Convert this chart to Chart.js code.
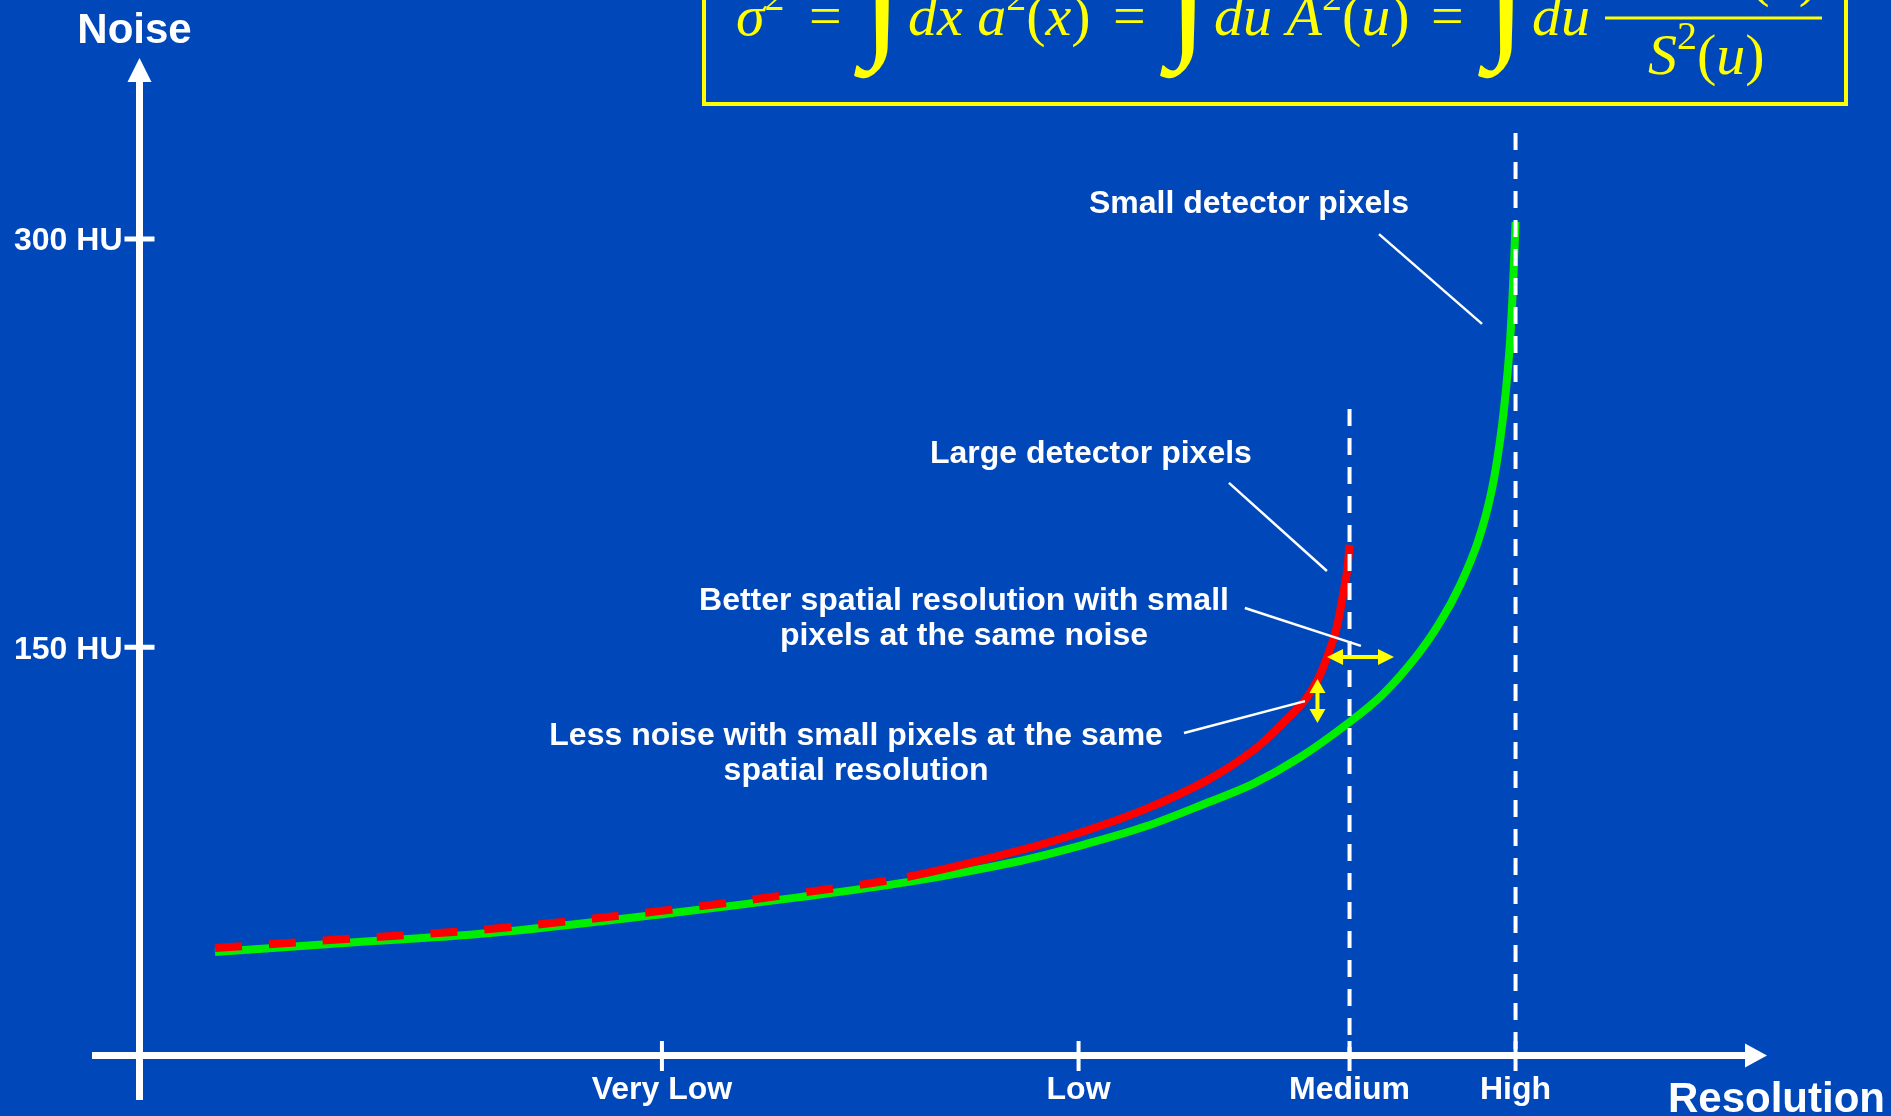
<!DOCTYPE html>
<html>
<head>
<meta charset="utf-8">
<script src="https://cdn.jsdelivr.net/npm/chart.js@4.4.1/dist/chart.umd.min.js"></script>
<style>
html, body { margin: 0; padding: 0; background: #0048ba; overflow: hidden; }
canvas { display: block; }
</style>
</head>
<body>
<canvas id="noiseChart" width="1891" height="1116"></canvas>
<script>
// resolution axis in arbitrary units (0 = noise axis), noise in HU
var resolutionTicks = [32.1, 57.7, 74.35, 84.55];
var resolutionLabels = ['Very Low', 'Low', 'Medium', 'High'];
var noiseTicks = [150, 300];
var noiseLabels = ['150 HU', '300 HU'];

// large detector pixels (red)
var largeX = [4.64, 11.71, 21.54, 32.59, 40.58, 47.16, 53.73, 58.10, 61.84, 65.53, 68.48, 70.32, 71.61, 72.41, 72.97, 73.52, 73.89, 74.19, 74.35];
var largeNoise = [39.5, 42.4, 46.5, 53.5, 59.7, 65.6, 74.8, 82.5, 90.6, 100.9, 112.3, 122.5, 130.6, 138.3, 146.4, 156.3, 167.4, 177.6, 187.6];

// small detector pixels (green)
var smallX = [4.64, 11.71, 21.54, 32.59, 40.58, 47.16, 53.73, 58.10, 61.84, 65.53, 68.48, 71.30, 74.35, 76.41, 78.50, 79.91, 81.14, 82.25, 83.10, 83.72, 84.15, 84.39, 84.55];
var smallNoise = [38.0, 41.0, 45.0, 52.3, 58.2, 63.7, 71.0, 77.6, 84.2, 92.7, 100.0, 109.5, 122.5, 132.8, 147.0, 159.2, 172.8, 189.0, 208.1, 231.6, 257.4, 282.4, 306.3];

// vertical dashed markers: [x, top noise]
var markerX = [74.35, 84.55];
var markerTop = [237.5, 338.9];

function toPoints(xs, ys) {
    return xs.map(function (x, i) { return { x: x, y: ys[i] }; });
}

// annotation texts, anchored in data units (center x, baseline y)
var notes = [
    { x: 68.17, y: 309.5, lines: ['Small detector pixels'] },
    { x: 58.46, y: 217.7, lines: ['Large detector pixels'] },
    { x: 50.66, y: 163.7, lines: ['Better spatial resolution with small', 'pixels at the same noise'] },
    { x: 44.03, y: 114.1, lines: ['Less noise with small pixels at the same', 'spatial resolution'] }
];
var leaders = [
    [76.16, 301.8, 82.49, 268.8],
    [66.94, 210.4, 72.96, 178.0],
    [67.92, 164.4, 75.05, 150.5],
    [64.18, 118.5, 71.61, 130.2]
];
var hArrow = { x1: 72.97, x2: 77.08, y: 146.4 };
var vArrow = { x: 72.38, y1: 138.3, y2: 122.2 };

var WHITE = '#ffffff';
var YELLOW = '#ffff00';
var BOLD32 = 'bold 32px "Liberation Sans", Arial, sans-serif';
var BOLD42 = 'bold 42px "Liberation Sans", Arial, sans-serif';

function line(ctx, x1, y1, x2, y2, w, color) {
    ctx.save();
    ctx.strokeStyle = color;
    ctx.lineWidth = w;
    ctx.beginPath();
    ctx.moveTo(x1, y1);
    ctx.lineTo(x2, y2);
    ctx.stroke();
    ctx.restore();
}

function tri(ctx, pts, color) {
    ctx.fillStyle = color;
    ctx.beginPath();
    ctx.moveTo(pts[0], pts[1]);
    ctx.lineTo(pts[2], pts[3]);
    ctx.lineTo(pts[4], pts[5]);
    ctx.closePath();
    ctx.fill();
}

// draws a run of [text, font, dy] pieces from x along baseline y
function mathRun(ctx, x, y, parts) {
    parts.forEach(function (p) {
        ctx.font = p[1];
        ctx.fillText(p[0], x, y + (p[2] || 0));
        x += ctx.measureText(p[0]).width;
    });
    return x;
}

function runWidth(ctx, parts) {
    var w = 0;
    parts.forEach(function (p) { ctx.font = p[1]; w += ctx.measureText(p[0]).width; });
    return w;
}

function integral(ctx, x, bottom) {
    ctx.font = 'italic 150px "Liberation Serif", serif';
    var m = ctx.measureText('\u222B');
    ctx.fillText('\u222B', x, bottom - m.actualBoundingBoxDescent);
}

var decorPlugin = {
    id: 'decor',
    beforeDraw: function (chart) {
        var ctx = chart.ctx;
        ctx.save();
        ctx.fillStyle = '#0048ba';
        ctx.fillRect(0, 0, chart.width, chart.height);
        ctx.restore();
    },
    afterDatasetsDraw: function (chart) {
        var ctx = chart.ctx;
        var xs = chart.scales.x, ys = chart.scales.y;
        var px = function (v) { return xs.getPixelForValue(v); };
        var py = function (v) { return ys.getPixelForValue(v); };
        var ox = px(0), oy = py(0);
        ctx.save();

        // axes with arrow heads
        line(ctx, ox, oy + 44.5, ox, ys.top + 22, 7, WHITE);
        tri(ctx, [ox, ys.top, ox - 12, ys.top + 24, ox + 12, ys.top + 24], WHITE);
        line(ctx, ox - 47.5, oy, xs.right - 18, oy, 7, WHITE);
        tri(ctx, [xs.right, oy, xs.right - 22, oy - 12, xs.right - 22, oy + 12], WHITE);

        // y ticks and labels
        ctx.font = BOLD32;
        ctx.fillStyle = WHITE;
        ctx.textAlign = 'right';
        ctx.textBaseline = 'alphabetic';
        noiseTicks.forEach(function (v, i) {
            var y = py(v);
            line(ctx, ox - 15, y, ox + 15, y, 5, WHITE);
            ctx.fillText(noiseLabels[i], ox - 17, y + 11.5);
        });

        // x ticks and labels
        ctx.textAlign = 'center';
        resolutionTicks.forEach(function (v, i) {
            var x = px(v);
            line(ctx, x, oy - 14.5, x, oy + 15.5, 4, WHITE);
            ctx.fillText(resolutionLabels[i], x, 1099);
        });

        // axis titles
        ctx.font = BOLD42;
        ctx.fillText('Noise', ox - 5, 43);
        ctx.textAlign = 'left';
        ctx.fillText('Resolution', 1668, 1112);

        // dashed vertical markers
        ctx.setLineDash([17, 12]);
        markerX.forEach(function (v, i) {
            line(ctx, px(v), py(markerTop[i]), px(v), oy - 3, 4, WHITE);
        });
        ctx.setLineDash([]);

        // leader lines
        leaders.forEach(function (l) {
            line(ctx, px(l[0]), py(l[1]), px(l[2]), py(l[3]), 2.5, WHITE);
        });

        // annotation texts
        ctx.font = BOLD32;
        ctx.fillStyle = WHITE;
        ctx.textAlign = 'center';
        notes.forEach(function (n) {
            n.lines.forEach(function (t, k) {
                ctx.fillText(t, px(n.x), py(n.y) + k * 35);
            });
        });

        // yellow double arrows
        var ax1 = px(hArrow.x1), ax2 = px(hArrow.x2), ay = py(hArrow.y);
        line(ctx, ax1 + 14, ay, ax2 - 14, ay, 4, YELLOW);
        tri(ctx, [ax1, ay, ax1 + 16, ay - 8, ax1 + 16, ay + 8], YELLOW);
        tri(ctx, [ax2, ay, ax2 - 16, ay - 8, ax2 - 16, ay + 8], YELLOW);
        var vx = px(vArrow.x), vy1 = py(vArrow.y1), vy2 = py(vArrow.y2);
        line(ctx, vx, vy1 + 12, vx, vy2 - 12, 4, YELLOW);
        tri(ctx, [vx, vy1, vx - 8, vy1 + 14, vx + 8, vy1 + 14], YELLOW);
        tri(ctx, [vx, vy2, vx - 8, vy2 - 14, vx + 8, vy2 - 14], YELLOW);

        // formula box (top edge runs off the page)
        ctx.strokeStyle = YELLOW;
        ctx.lineWidth = 4;
        ctx.beginPath();
        ctx.moveTo(704, -10);
        ctx.lineTo(704, 104);
        ctx.lineTo(1846, 104);
        ctx.lineTo(1846, -10);
        ctx.stroke();

        var IT = 'italic 58px "Liberation Serif", serif';
        var RM = '58px "Liberation Serif", serif';
        var SUP = '40px "Liberation Serif", serif';
        ctx.fillStyle = YELLOW;
        ctx.textAlign = 'left';
        mathRun(ctx, 736, 35, [['\u03C3', IT], ['2', SUP, -25]]);
        mathRun(ctx, 809, 35, [['=', RM]]);
        integral(ctx, 862, 79);
        mathRun(ctx, 908, 35, [['dx a', IT], ['2', SUP, -25], ['(', RM], ['x', IT], [')', RM]]);
        mathRun(ctx, 1113, 35, [['=', RM]]);
        integral(ctx, 1168, 79);
        mathRun(ctx, 1214, 35, [['du A', IT], ['2', SUP, -25], ['(', RM], ['u', IT], [')', RM]]);
        mathRun(ctx, 1431, 35, [['=', RM]]);
        integral(ctx, 1486, 79);
        mathRun(ctx, 1532, 35, [['du', IT]]);
        line(ctx, 1605, 18, 1822, 18, 3, YELLOW);
        var numer = [['N', IT], ['2', SUP, -25], ['(', RM], ['u', IT], [')', RM]];
        mathRun(ctx, 1818 - runWidth(ctx, numer), -5, numer);
        mathRun(ctx, 1648, 74, [['S', IT], ['2', SUP, -25], ['(', RM], ['u', IT], [')', RM]]);

        ctx.restore();
    }
};

var chart_noiseResolution = new Chart(document.getElementById('noiseChart'), {
    type: 'line',
    data: {
        datasets: [
            {
                label: 'Large detector pixels',
                data: toPoints(largeX, largeNoise),
                borderColor: '#ff0000',
                borderWidth: 8,
                borderCapStyle: 'butt',
                tension: 0.35,
                pointRadius: 0,
                order: 0,
                segment: {
                    borderDash: function (ctx) { return ctx.p0.parsed.x < 41 ? [27, 27] : undefined; }
                }
            },
            {
                label: 'Small detector pixels',
                data: toPoints(smallX, smallNoise),
                borderColor: '#00ee00',
                borderWidth: 8,
                borderCapStyle: 'butt',
                tension: 0.35,
                pointRadius: 0,
                order: 1
            }
        ]
    },
    options: {
        animation: false,
        responsive: false,
        layout: {
            padding: { left: 139.5, right: 124, top: 58, bottom: 60.5 }
        },
        plugins: {
            legend: { display: false },
            tooltip: { enabled: false },
            title: { display: false }
        },
        scales: {
            x: { type: 'linear', min: 0, max: 100, display: false },
            y: { type: 'linear', min: 0, max: 366.5, display: false }
        }
    },
    plugins: [decorPlugin]
});
</script>
</body>
</html>
